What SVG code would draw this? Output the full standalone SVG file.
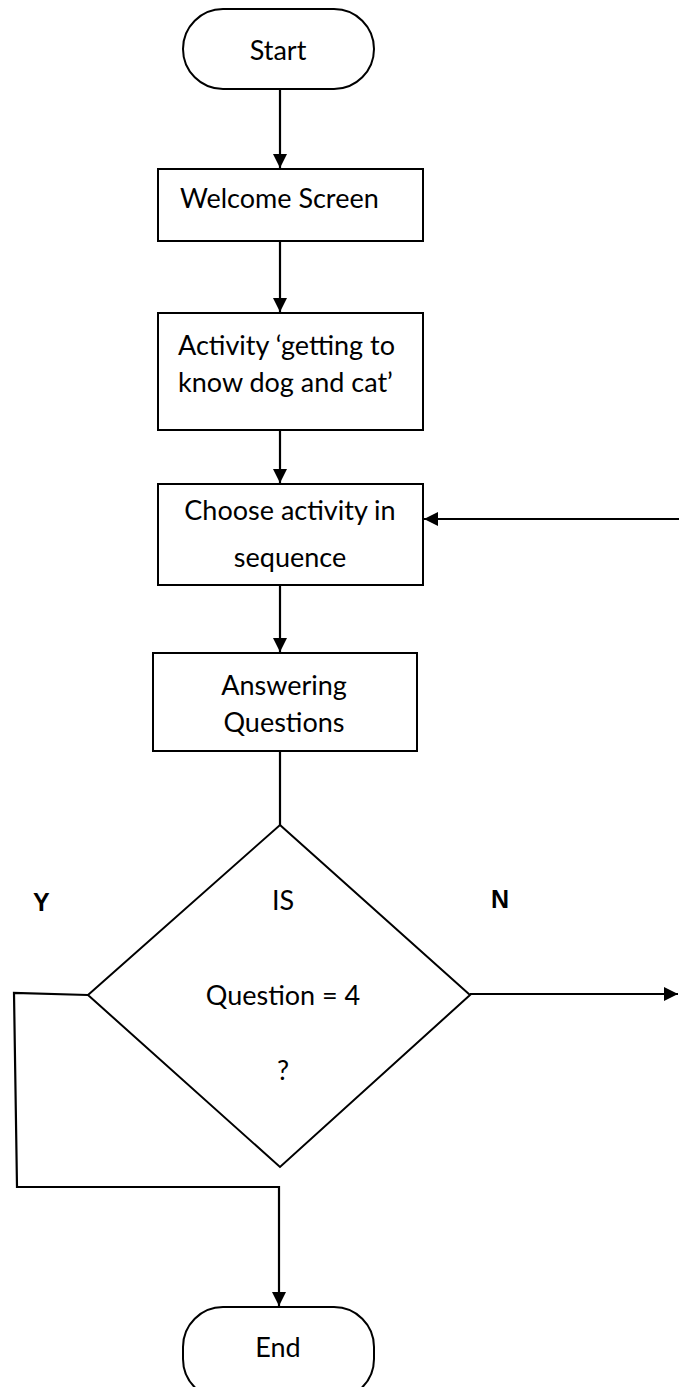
<svg xmlns="http://www.w3.org/2000/svg" width="679" height="1387" viewBox="0 0 679 1387">
  <style>
    .box { fill: #ffffff; stroke: #000000; stroke-width: 2; }
    .line { fill: none; stroke: #000000; stroke-width: 2.2; }
    .lbl { font-family: Lato, "Open Sans", "Liberation Sans", sans-serif; font-size: 27px; fill: #000000; }
    .yn { font-family: "Liberation Sans", Arial, sans-serif; font-size: 25px; font-weight: bold; fill: #000000; }
  </style>
  <defs>
    <marker id="arrow" viewBox="0 0 14 14" refX="14" refY="7" markerWidth="14" markerHeight="14" markerUnits="userSpaceOnUse" orient="auto">
      <path d="M0,0 L14,7 L0,14 Z" fill="#000000"/>
    </marker>
  </defs>

  <rect width="679" height="1387" fill="#ffffff"/>

  <!-- connectors -->
  <g id="connectors">
    <line class="line" x1="280" y1="89" x2="280" y2="168" marker-end="url(#arrow)"/>
    <line class="line" x1="280" y1="241" x2="280" y2="312" marker-end="url(#arrow)"/>
    <line class="line" x1="280" y1="430" x2="280" y2="483" marker-end="url(#arrow)"/>
    <line class="line" x1="280" y1="585" x2="280" y2="652" marker-end="url(#arrow)"/>
    <line class="line" x1="280" y1="751" x2="280" y2="825"/>
    <!-- loop back into the sequence chooser -->
    <line class="line" x1="679" y1="519" x2="424" y2="519" marker-end="url(#arrow)"/>
    <!-- N branch -->
    <line class="line" x1="470" y1="994" x2="678" y2="994" marker-end="url(#arrow)"/>
    <!-- Y branch down to End -->
    <polyline class="line" points="88,995 14,993 17,1187 279,1187"/>
    <line class="line" x1="279" y1="1186" x2="279" y2="1306" marker-end="url(#arrow)"/>
  </g>

  <g id="start">
    <rect class="box" x="183" y="9" width="191" height="80" rx="40" ry="40"/>
    <text class="lbl" x="278" y="60" text-anchor="middle">Start</text>
  </g>

  <g id="welcome">
    <rect class="box" x="158" y="169" width="265" height="72"/>
    <text class="lbl" x="180" y="208">Welcome Screen</text>
  </g>

  <g id="activity-intro">
    <rect class="box" x="158" y="313" width="265" height="117"/>
    <text class="lbl" x="178" y="355">Activity ‘getting to</text>
    <text class="lbl" x="178" y="392">know dog and cat’</text>
  </g>

  <g id="choose-activity">
    <rect class="box" x="158" y="484" width="265" height="101"/>
    <text class="lbl" x="290" y="520" text-anchor="middle">Choose activity in</text>
    <text class="lbl" x="290" y="567" text-anchor="middle">sequence</text>
  </g>

  <g id="answering">
    <rect class="box" x="153" y="653" width="264" height="98"/>
    <text class="lbl" x="284" y="695" text-anchor="middle">Answering</text>
    <text class="lbl" x="284" y="732" text-anchor="middle">Questions</text>
  </g>

  <g id="decision">
    <polygon class="box" points="280,825 470,995 280,1167 88,995"/>
    <text class="lbl" x="283" y="910" text-anchor="middle">IS</text>
    <text class="lbl" x="283" y="1005" text-anchor="middle">Question = 4</text>
    <text class="lbl" x="283" y="1080" text-anchor="middle">?</text>
  </g>

  <g id="branch-labels">
    <text class="yn" x="33" y="911">Y</text>
    <text class="yn" x="491" y="908">N</text>
  </g>

  <g id="end">
    <rect class="box" x="183" y="1307" width="191" height="92" rx="40" ry="40"/>
    <text class="lbl" x="278" y="1357" text-anchor="middle">End</text>
  </g>
</svg>
